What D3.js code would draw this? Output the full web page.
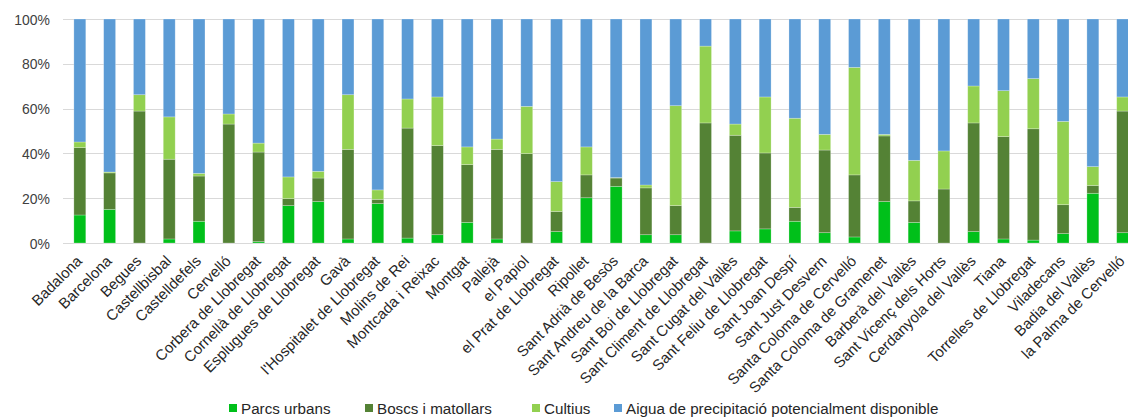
<!DOCTYPE html>
<html><head><meta charset="utf-8">
<script src="https://cdn.jsdelivr.net/npm/d3@7"></script>
<style>
body{margin:0;background:#fff;}
svg{display:block;font-family:"Liberation Sans",Arial,sans-serif;}
</style></head>
<body><svg id="c" width="1128" height="418"></svg>
<script>
const categories = ["Badalona","Barcelona","Begues","Castellbisbal","Castelldefels","Cervelló","Corbera de Llobregat","Cornellà de Llobregat","Esplugues de Llobregat","Gavà","l'Hospitalet de Llobregat","Molins de Rei","Montcada i Reixac","Montgat","Pallejà","el Papiol","el Prat de Llobregat","Ripollet","Sant Adrià de Besòs","Sant Andreu de la Barca","Sant Boi de Llobregat","Sant Climent de Llobregat","Sant Cugat del Vallès","Sant Feliu de Llobregat","Sant Joan Despí","Sant Just Desvern","Santa Coloma de Cervelló","Santa Coloma de Gramenet","Barberà del Vallès","Sant Vicenç dels Horts","Cerdanyola del Vallès","Tiana","Torrelles de Llobregat","Viladecans","Badia del Vallès","la Palma de Cervelló"];
const parcsUrbans = [12.5,15.0,0,1.8,9.7,0,0.6,16.7,18.5,1.8,17.6,2.2,3.7,9.2,1.8,0,5.1,20.2,25.3,3.7,3.7,0,5.4,6.3,9.7,4.6,2.7,18.5,9.2,0,5.1,1.8,1.3,4.2,22.2,4.6];
const boscsMatollars = [30.1,16.3,58.9,35.6,20.2,53.1,40.0,3.1,10.5,40.0,1.9,49.1,39.8,25.8,40.0,39.9,9.0,10.2,3.7,20.9,13.0,53.6,42.7,33.9,6.2,36.9,27.7,29.3,9.6,24.1,48.5,45.7,49.7,12.9,3.5,54.3];
const cultius = [2.5,0.4,7.3,18.9,1.2,4.5,4.0,9.7,3.0,24.4,4.2,13.0,21.7,7.9,4.6,21.1,13.3,12.5,0.2,1.3,44.6,34.3,5.0,25.0,39.8,7.0,48.0,0.7,18.1,17.0,16.5,20.5,22.4,37.2,8.4,6.3];
const aigua = [54.9,68.3,33.8,43.7,68.9,42.4,55.4,70.5,68.0,33.8,76.3,35.7,34.8,57.1,53.6,39.0,72.6,57.1,70.8,74.1,38.7,12.1,46.9,34.8,44.3,51.5,21.6,51.5,63.1,58.9,29.9,32.0,26.6,45.7,65.9,34.8];
const seriesNames = ["Parcs urbans","Boscs i matollars","Cultius","Aigua de precipitació potencialment disponible"];
const seriesColors = ["#00c01a","#548235","#92d050","#5b9bd5"];
const yTicks = [0,20,40,60,80,100];

const keys = ["p","b","c","a"];
const rows = categories.map((cat,i)=>({cat, p:parcsUrbans[i], b:boscsMatollars[i], c:cultius[i], a:aigua[i]}));
rows.forEach(r=>{const t=r.p+r.b+r.c+r.a; keys.forEach(k=>r[k]=r[k]/t*100);});
const stack = d3.stack().keys(keys)(rows);

const svg = d3.select("#c");
const x = d3.scaleBand().domain(categories).range([56,1146.5]).padding(0.6);
const y = d3.scaleLinear().domain([0,100]).range([243,19]);

// gridlines
svg.append("g").selectAll("line").data(yTicks).join("line")
  .attr("x1",63).attr("x2",1128)
  .attr("y1",d=>Math.round(y(d))+0.5).attr("y2",d=>Math.round(y(d))+0.5)
  .attr("stroke","#d9d9d9").attr("stroke-width",1);

// y labels
svg.append("g").selectAll("text").data(yTicks).join("text")
  .attr("transform",d=>`translate(50,${y(d)}) scale(0.9,1)`)
  .attr("dy","0.36em")
  .attr("text-anchor","end").attr("font-size",15.5).attr("fill","#404040")
  .text(d=>d+"%");

// bars
svg.append("g").selectAll("g").data(stack).join("g")
  .attr("fill",(d,i)=>seriesColors[i])
  .selectAll("rect").data(d=>d).join("rect")
  .attr("x",d=>x(d.data.cat)).attr("width",x.bandwidth())
  .attr("y",d=>y(d[1])).attr("height",d=>Math.max(0,y(d[0])-y(d[1])))
  .attr("stroke","#ffffff").attr("stroke-opacity",0.35).attr("stroke-width",0.7);

// x labels
svg.append("g").selectAll("text").data(categories).join("text")
  .attr("transform",d=>`translate(${x(d)+x.bandwidth()/2+3},${262}) rotate(-45)`)
  .attr("text-anchor","end").attr("font-size",15).attr("fill","#262626")
  .text(d=>d);

// legend
const legX = [229,365,532,614];
const leg = svg.append("g").selectAll("g").data(seriesNames).join("g")
  .attr("transform",(d,i)=>`translate(${legX[i]},404)`);
leg.append("rect").attr("width",8).attr("height",8).attr("fill",(d,i)=>seriesColors[i]);
leg.append("text").attr("x",12).attr("y",9.5).attr("font-size",15.2).attr("fill","#262626").text(d=>d);
</script></body></html>
